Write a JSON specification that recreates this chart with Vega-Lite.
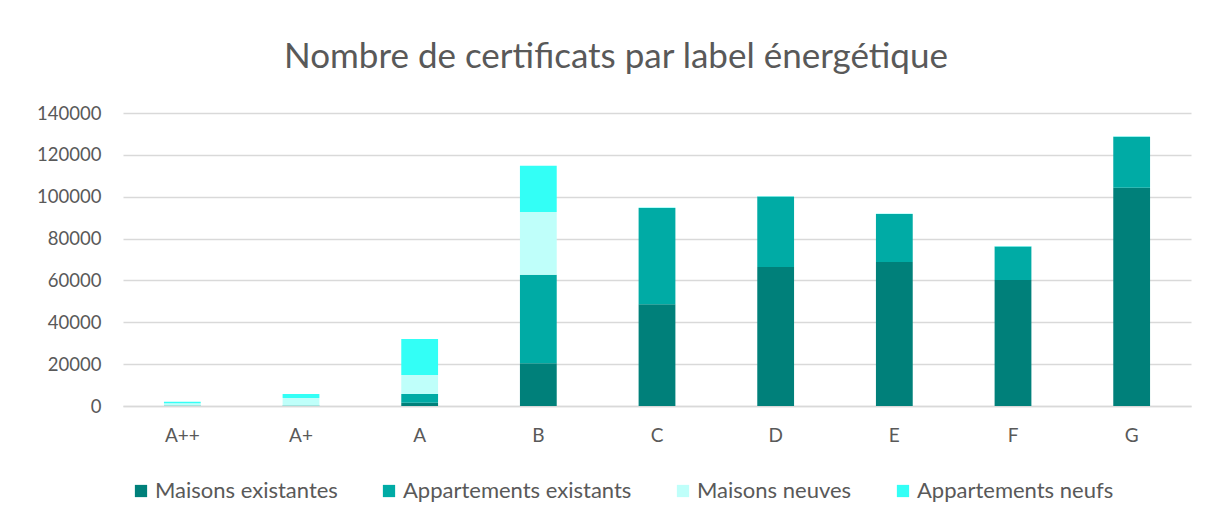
{
  "$schema": "https://vega.github.io/schema/vega-lite/v6.json",
  "width": 1068,
  "height": 293,
  "autosize": {"type": "none"},
  "padding": {"left": 123, "top": 113, "right": 17, "bottom": 115},
  "background": "white",
  "title": {
    "text": "Nombre de certificats par label énergétique",
    "fontSize": 35,
    "font": "Lato",
    "fontWeight": "normal",
    "color": "#595959",
    "anchor": "middle",
    "dx": -41,
    "offset": 29
  },
  "data": {
    "values": [
      {"label": "A++", "type": "Maisons existantes", "n": 100},
      {"label": "A++", "type": "Appartements existants", "n": 100},
      {"label": "A++", "type": "Maisons neuves", "n": 1100},
      {"label": "A++", "type": "Appartements neufs", "n": 700},
      {"label": "A+", "type": "Maisons existantes", "n": 100},
      {"label": "A+", "type": "Appartements existants", "n": 100},
      {"label": "A+", "type": "Maisons neuves", "n": 3600},
      {"label": "A+", "type": "Appartements neufs", "n": 1900},
      {"label": "A", "type": "Maisons existantes", "n": 1600},
      {"label": "A", "type": "Appartements existants", "n": 4100},
      {"label": "A", "type": "Maisons neuves", "n": 9100},
      {"label": "A", "type": "Appartements neufs", "n": 17200},
      {"label": "B", "type": "Maisons existantes", "n": 20400},
      {"label": "B", "type": "Appartements existants", "n": 42300},
      {"label": "B", "type": "Maisons neuves", "n": 30000},
      {"label": "B", "type": "Appartements neufs", "n": 22100},
      {"label": "C", "type": "Maisons existantes", "n": 48600},
      {"label": "C", "type": "Appartements existants", "n": 46000},
      {"label": "C", "type": "Maisons neuves", "n": 200},
      {"label": "C", "type": "Appartements neufs", "n": 200},
      {"label": "D", "type": "Maisons existantes", "n": 66400},
      {"label": "D", "type": "Appartements existants", "n": 33700},
      {"label": "D", "type": "Maisons neuves", "n": 100},
      {"label": "D", "type": "Appartements neufs", "n": 100},
      {"label": "E", "type": "Maisons existantes", "n": 68800},
      {"label": "E", "type": "Appartements existants", "n": 22900},
      {"label": "E", "type": "Maisons neuves", "n": 100},
      {"label": "E", "type": "Appartements neufs", "n": 100},
      {"label": "F", "type": "Maisons existantes", "n": 60200},
      {"label": "F", "type": "Appartements existants", "n": 16050},
      {"label": "F", "type": "Maisons neuves", "n": 100},
      {"label": "F", "type": "Appartements neufs", "n": 100},
      {"label": "G", "type": "Maisons existantes", "n": 104300},
      {"label": "G", "type": "Appartements existants", "n": 24300},
      {"label": "G", "type": "Maisons neuves", "n": 150},
      {"label": "G", "type": "Appartements neufs", "n": 150}
    ]
  },
  "transform": [
    {"calculate": "indexof(['Maisons existantes','Appartements existants','Maisons neuves','Appartements neufs'], datum.type)", "as": "typeOrder"}
  ],
  "mark": {"type": "bar"},
  "encoding": {
    "x": {
      "field": "label",
      "type": "nominal",
      "sort": ["A++", "A+", "A", "B", "C", "D", "E", "F", "G"],
      "scale": {"paddingInner": 0.69, "paddingOuter": 0.345},
      "axis": {
        "title": null,
        "labelAngle": 0,
        "ticks": false,
        "labelPadding": 20,
        "labelFontSize": 19,
        "labelFont": "Lato",
        "labelColor": "#595959",
        "domainColor": "#d9d9d9",
        "domainWidth": 1.5
      }
    },
    "y": {
      "field": "n",
      "type": "quantitative",
      "stack": "zero",
      "scale": {"domain": [0, 140000], "nice": false},
      "axis": {
        "title": null,
        "values": [0, 20000, 40000, 60000, 80000, 100000, 120000, 140000],
        "format": "d",
        "domain": false,
        "ticks": false,
        "labelPadding": 22,
        "labelFontSize": 18.5,
        "labelFont": "Lato",
        "labelColor": "#595959",
        "gridColor": "#d9d9d9",
        "gridWidth": 1.5
      }
    },
    "color": {
      "field": "type",
      "type": "nominal",
      "sort": ["Maisons existantes", "Appartements existants", "Maisons neuves", "Appartements neufs"],
      "scale": {
        "domain": ["Maisons existantes", "Appartements existants", "Maisons neuves", "Appartements neufs"],
        "range": ["#00807A", "#00ABA5", "#BFFFFA", "#33FFF6"]
      },
      "legend": {
        "title": null,
        "orient": "none",
        "direction": "horizontal",
        "legendX": 7,
        "legendY": 367,
        "symbolType": "square",
        "symbolSize": 150,
        "symbolStrokeWidth": 0,
        "labelFontSize": 22,
        "labelFont": "Lato",
        "labelColor": "#595959",
        "labelOffset": 3,
        "columnPadding": 40,
        "labelLimit": 400
      }
    },
    "order": {"field": "typeOrder", "type": "quantitative"}
  },
  "config": {
    "view": {"stroke": null}
  }
}
